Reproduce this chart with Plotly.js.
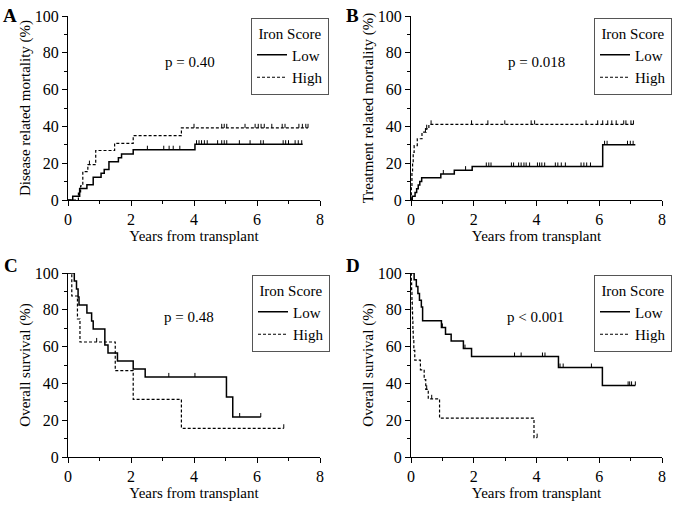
<!DOCTYPE html>
<html>
<head>
<meta charset="utf-8">
<script src="https://cdn.plot.ly/plotly-3.0.1.min.js"></script>
<style>html,body{margin:0;padding:0;background:#fff;}#chart{width:685px;height:513px;}</style>
</head>
<body>
<div id="chart"></div>
<script>
// ---------- Data ----------
// Panel A: Disease related mortality
const aLowT  = [0, 0.15, 0.37, 0.6, 0.8, 1.05, 1.15, 1.3, 1.6, 1.7, 2.07, 4.03, 7.45];
const aLowV  = [0, 2.1, 6.2, 8.3, 12.4, 14.5, 16.6, 20.8, 22.9, 25.0, 27.3, 30.3, 30.3];
const aLowC  = [2.52, 3.04, 3.21, 3.34, 3.55, 4.08, 4.16, 4.24, 4.33, 4.42, 4.75, 4.88, 4.96, 5.04, 5.44, 5.78, 6.12, 6.2, 6.83, 6.91, 7.0, 7.21, 7.31, 7.42];
const aHighT = [0, 0.33, 0.4, 0.47, 0.63, 0.88, 1.48, 2.07, 3.6, 7.62];
const aHighV = [0, 3.8, 7.7, 15.4, 19.2, 26.9, 30.8, 35.0, 39.2, 39.2];
const aHighC = [0.68, 4.0, 4.88, 4.96, 5.04, 5.62, 5.94, 6.04, 6.13, 6.23, 6.47, 6.8, 6.89, 7.33, 7.44, 7.55, 7.62];

// Panel B: Treatment related mortality
const bLowT  = [0, 0.04, 0.13, 0.18, 0.23, 0.28, 0.34, 0.95, 1.38, 1.95, 6.11, 7.15];
const bLowV  = [0, 2.0, 4.1, 6.1, 8.1, 10.1, 12.1, 14.1, 16.2, 18.2, 30.0, 30.0];
const bLowC  = [1.03, 1.74, 2.4, 2.48, 2.55, 3.2, 3.27, 3.43, 3.51, 3.6, 3.67, 3.78, 4.03, 4.1, 4.17, 4.26, 4.6, 4.68, 4.79, 4.92, 5.42, 5.51, 5.6, 5.72, 6.17, 6.25, 6.9, 6.99, 7.08];
const bHighT = [0, 0.01, 0.03, 0.05, 0.07, 0.1, 0.2, 0.35, 0.48, 0.57, 7.1];
const bHighV = [0, 7.4, 14.8, 20.2, 25.9, 29.6, 33.3, 36.9, 38.7, 41.1, 41.1];
const bHighC = [0.46, 0.5, 0.64, 1.93, 2.45, 2.99, 3.83, 3.94, 5.58, 5.95, 6.11, 6.27, 6.4, 6.54, 6.78, 6.85, 7.01, 7.09];

// Panel C: Overall survival
const cLowT  = [0, 0.2, 0.27, 0.32, 0.35, 0.6, 0.75, 0.8, 1.17, 1.27, 1.57, 2.07, 2.45, 5.03, 5.23, 6.12];
const cLowV  = [100, 95.7, 91.3, 87.0, 82.6, 78.3, 73.9, 69.6, 60.9, 56.5, 52.2, 47.8, 43.5, 32.6, 21.7, 21.7];
const cLowC  = [3.2, 4.03, 5.45, 6.12];
const cHighT = [0, 0.12, 0.3, 0.38, 1.5, 2.07, 3.6, 6.85];
const cHighV = [100, 87.5, 75.0, 62.5, 46.9, 31.3, 15.6, 15.6];
const cHighC = [0.91, 6.85];

// Panel D: Overall survival
const dLowT  = [0, 0.1, 0.17, 0.22, 0.27, 0.33, 0.37, 0.97, 1.1, 1.28, 1.67, 1.93, 4.7, 6.1, 7.15];
const dLowV  = [100, 96.3, 92.6, 88.9, 85.2, 81.5, 74.1, 70.4, 66.7, 63.0, 58.9, 54.6, 48.6, 38.9, 38.9];
const dLowC  = [1.0, 1.72, 3.3, 3.51, 4.19, 4.27, 4.75, 4.85, 5.75, 6.92, 6.97, 7.03, 7.15];
const dHighT = [0, 0.01, 0.02, 0.03, 0.04, 0.05, 0.06, 0.07, 0.09, 0.12, 0.3, 0.42, 0.47, 0.55, 0.91, 3.92, 4.02];
const dHighV = [100, 94.7, 89.5, 84.2, 78.9, 73.7, 68.4, 63.2, 57.9, 52.6, 47.4, 42.1, 36.8, 31.6, 21.1, 10.5, 10.5];
const dHighC = [0.5, 0.66, 4.02];

const groupNames = ['Low', 'High'];
const panelLetters = ['A', 'B', 'C', 'D'];
const pValues = ['p = 0.40', 'p = 0.018', 'p = 0.48', 'p < 0.001'];
const yTitles = ['Disease related mortality (%)', 'Treatment related mortality (%)', 'Overall survival (%)', 'Overall survival (%)'];
const xTitle = 'Years from transplant';
const legendTitle = 'Iron Score';

// ---------- Build ----------
const FONT = 'Liberation Serif, Times New Roman, serif';
const W = 685, H = 513;
const TICK_UP = 2.2; // censor tick length in y units (style)

function stepAt(t, v, x) {
  let val = v[0];
  for (let i = 0; i < t.length; i++) { if (t[i] <= x) val = v[i]; }
  return val;
}

const panels = [
  {low: [aLowT, aLowV, aLowC], high: [aHighT, aHighV, aHighC]},
  {low: [bLowT, bLowV, bLowC], high: [bHighT, bHighV, bHighC]},
  {low: [cLowT, cLowV, cLowC], high: [cHighT, cHighV, cHighC]},
  {low: [dLowT, dLowV, dLowC], high: [dHighT, dHighV, dHighC]}
];

// pixel boxes of plot areas [x0, x1, yTop, yBottom]
const boxes = [[68, 320, 16, 200], [411, 662, 16, 200], [68, 320, 273, 457], [411, 662, 273, 457]];
const legendPos = [[251, 18], [594, 18], [252, 275], [594, 275]];
const letterPos = [[10, 15], [352, 15], [11, 265], [353, 265]];
const pPos = [[190, 62], [536, 62], [189, 317], [535, 317]];

const traces = [];
const layout = {
  width: W, height: H,
  margin: {l: 0, r: 0, t: 0, b: 0},
  paper_bgcolor: '#fff', plot_bgcolor: '#fff',
  font: {family: FONT, size: 15, color: '#000'},
  annotations: [],
  showlegend: true
};

panels.forEach((p, i) => {
  const n = i + 1;
  const xa = n === 1 ? 'x' : 'x' + n;
  const ya = n === 1 ? 'y' : 'y' + n;
  const lg = n === 1 ? 'legend' : 'legend' + n;
  const styles = [
    {width: 1.5, dash: 'solid'},
    {width: 1.2, dash: '3px,2px'}
  ];
  [p.low, p.high].forEach((g, k) => {
    const [t, v, c] = g;
    traces.push({
      type: 'scatter', mode: 'lines', x: t, y: v,
      line: {shape: 'hv', color: '#000', width: styles[k].width, dash: styles[k].dash},
      name: groupNames[k], xaxis: xa, yaxis: ya, legend: lg, hoverinfo: 'skip'
    });
    traces.push({
      type: 'scatter', mode: 'markers', x: c, y: c.map(x => stepAt(t, v, x)),
      marker: {size: 1, color: 'rgba(0,0,0,0)'},
      error_y: {type: 'constant', value: TICK_UP, valueminus: 0, symmetric: false,
                color: '#000', thickness: 1, width: 0},
      showlegend: false, xaxis: xa, yaxis: ya, legend: lg, hoverinfo: 'skip'
    });
  });

  const b = boxes[i];
  const common = {
    showline: true, linecolor: '#000', linewidth: 1, showgrid: false, zeroline: false,
    ticks: 'outside', ticklen: 5, tickwidth: 1, tickcolor: '#000',
    tickfont: {family: FONT, size: 16, color: '#000'}
  };
  layout['xaxis' + (n === 1 ? '' : n)] = Object.assign({}, common, {
    domain: [b[0] / W, b[1] / W], anchor: ya, range: [0, 8], tick0: 0, dtick: 2,
    minor: {dtick: 1, ticks: 'outside', ticklen: 3, tickcolor: '#000', showgrid: false},
    title: {text: xTitle, font: {family: FONT, size: 15, color: '#000'}, standoff: 0}
  });
  layout['yaxis' + (n === 1 ? '' : n)] = Object.assign({}, common, {
    domain: [(H - b[3]) / H, (H - b[2]) / H], anchor: xa, range: [0, 100], tick0: 0, dtick: 20,
    minor: {dtick: 10, ticks: 'outside', ticklen: 3, tickcolor: '#000', showgrid: false},
    title: {text: yTitles[i], font: {family: FONT, size: 15, color: '#000'}, standoff: 0}
  });
  layout[lg] = {
    x: legendPos[i][0] / W, y: (H - legendPos[i][1]) / H, xanchor: 'left', yanchor: 'top',
    bgcolor: '#fff', bordercolor: '#555', borderwidth: 1,
    font: {family: FONT, size: 15, color: '#000'},
    title: {text: legendTitle, side: 'top center', font: {family: FONT, size: 15, color: '#000'}},
    tracegroupgap: 0, itemwidth: 30, traceorder: 'normal'
  };
  layout.annotations.push({
    xref: 'paper', yref: 'paper', x: letterPos[i][0] / W, y: (H - letterPos[i][1]) / H,
    xanchor: 'center', yanchor: 'middle', showarrow: false,
    text: '<b>' + panelLetters[i] + '</b>', font: {family: FONT, size: 19, color: '#000'}
  });
  layout.annotations.push({
    xref: 'paper', yref: 'paper', x: pPos[i][0] / W, y: (H - pPos[i][1]) / H,
    xanchor: 'center', yanchor: 'middle', showarrow: false,
    text: pValues[i], font: {family: FONT, size: 15, color: '#000'}
  });
});

Plotly.newPlot('chart', traces, layout, {displayModeBar: false, staticPlot: true});
</script>
</body>
</html>
